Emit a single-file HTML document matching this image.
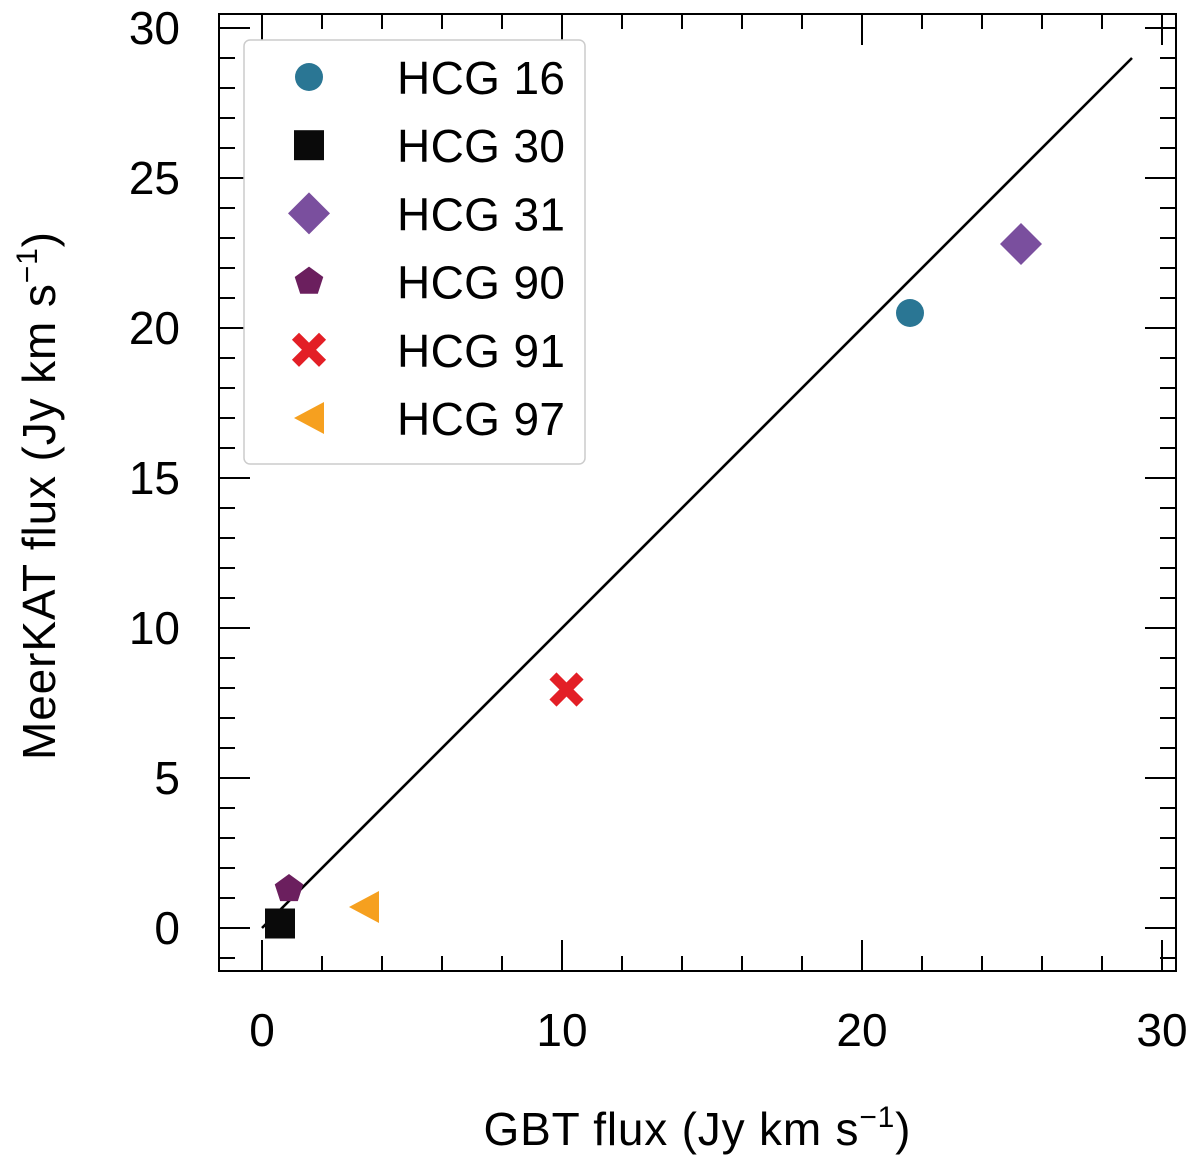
<!DOCTYPE html>
<html><head><meta charset="utf-8"><style>
html,body{margin:0;padding:0;background:#fff;}
svg{display:block;font-family:"Liberation Sans",sans-serif;}
</style></head><body>
<svg id="chart" width="1200" height="1167">
<g id="ticks"></g>
<g id="labels"></g>
<line id="oneone" stroke="#000" stroke-width="2.6"/>
<g id="points"></g>
<rect x="219" y="14" width="957" height="957" fill="none" stroke="#000" stroke-width="2"/>
<g id="legend">
<rect x="244" y="40" width="341" height="424" rx="6" fill="#fff" stroke="#ccc" stroke-width="1.5"/>
</g>
<text x="697" y="1145" text-anchor="middle" font-size="46" textLength="427">GBT flux (Jy km s<tspan dy="-18" font-size="30">−1</tspan><tspan dy="18">)</tspan></text>
<text transform="translate(55,496) rotate(-90)" text-anchor="middle" font-size="46" textLength="528">MeerKAT flux (Jy km s<tspan dy="-18" font-size="30">−1</tspan><tspan dy="18">)</tspan></text>
</svg>
<script>
const names = ["HCG 16","HCG 30","HCG 31","HCG 90","HCG 91","HCG 97"];
const gbtFlux = [21.6, 0.6, 25.3, 0.9, 10.15, 3.4];
const meerkatFlux = [20.5, 0.15, 22.8, 1.3, 7.95, 0.7];
const colors = ["#2a7694","#0a0a0a","#7a4f9e","#6b1f5e","#e31f26","#f6a01f"];
const shapes = ["circle","square","diamond","pentagon","cross","triangle"];
const xTickLabels = [0,10,20,30];
const yTickLabels = [0,5,10,15,20,25,30];
const lineRange = [0, 29];

const X = v => 262 + v*30;
const Y = v => 928 - v*30;
const NS = "http://www.w3.org/2000/svg";
function mk(tag, attrs, parent){const e=document.createElementNS(NS,tag);for(const k in attrs)e.setAttribute(k,attrs[k]);parent.appendChild(e);return e;}

const tg=document.getElementById('ticks');
for(let v=0; v<=30; v+=2){
  const len = v%10===0?31:15, x=X(v);
  let t=mk('line',{x1:x,x2:x,y1:971,y2:971-len,stroke:'#000','stroke-width':2},tg);
  
  
  t=mk('line',{x1:x,x2:x,y1:14,y2:14+len,stroke:'#000','stroke-width':2},tg);
  
  
}
for(let v=-1; v<=30; v+=1){
  const len = v%5===0?31:16, y=Y(v);
  let t=mk('line',{x1:219,x2:219+len,y1:y,y2:y,stroke:'#000','stroke-width':2},tg);
  
  
  t=mk('line',{x1:1176,x2:1176-len,y1:y,y2:y,stroke:'#000','stroke-width':2},tg);
  
  
}
const lg=document.getElementById('labels');
xTickLabels.forEach(v=>{const t=mk('text',{x:X(v),y:1046,'text-anchor':'middle','font-size':46},lg);t.textContent=v;
  
  });
yTickLabels.forEach(v=>{const t=mk('text',{x:180,y:Y(v)+16,'text-anchor':'end','font-size':46},lg);t.textContent=v;
  
  });

const ln=document.getElementById('oneone');
ln.setAttribute('x1',X(lineRange[0]));ln.setAttribute('y1',Y(lineRange[0]));
ln.setAttribute('x2',X(lineRange[1]));ln.setAttribute('y2',Y(lineRange[1]));

function marker(shape,cx,cy,c,parent){
  let e;
  if(shape==='circle') e=mk('circle',{cx,cy,r:14,fill:c},parent);
  else if(shape==='square') e=mk('rect',{x:cx-15,y:cy-15,width:30,height:30,fill:c},parent);
  else if(shape==='diamond') e=mk('polygon',{points:`${cx},${cy-21} ${cx+21},${cy} ${cx},${cy+21} ${cx-21},${cy}`,fill:c},parent);
  else if(shape==='pentagon'){let p=[];for(let i=0;i<5;i++){const a=-Math.PI/2+i*2*Math.PI/5;p.push((cx+15*Math.cos(a))+','+(cy+15*Math.sin(a)));}e=mk('polygon',{points:p.join(' '),fill:c},parent);}
  else if(shape==='cross'){e=mk('path',{d:`M${cx-10},${cy-10}L${cx+10},${cy+10}M${cx+10},${cy-10}L${cx-10},${cy+10}`,stroke:c,'stroke-width':10,'stroke-linecap':'square'},parent);}
  else e=mk('polygon',{points:`${cx-15},${cy} ${cx+15},${cy-16} ${cx+15},${cy+16}`,fill:c},parent);
  return e;
}
const pg=document.getElementById('points');
const leg=document.getElementById('legend');
names.forEach((n,i)=>{
  const m=marker(shapes[i],X(gbtFlux[i]),Y(meerkatFlux[i]),colors[i],pg);
  
  
  const ly=77+i*68.2;
  const lm=marker(shapes[i],309,ly,colors[i],leg);
  
  
  const t=mk('text',{x:397,y:ly+17,'font-size':46,textLength:168},leg);t.textContent=n;
  
  
});
</script>
</body></html>
